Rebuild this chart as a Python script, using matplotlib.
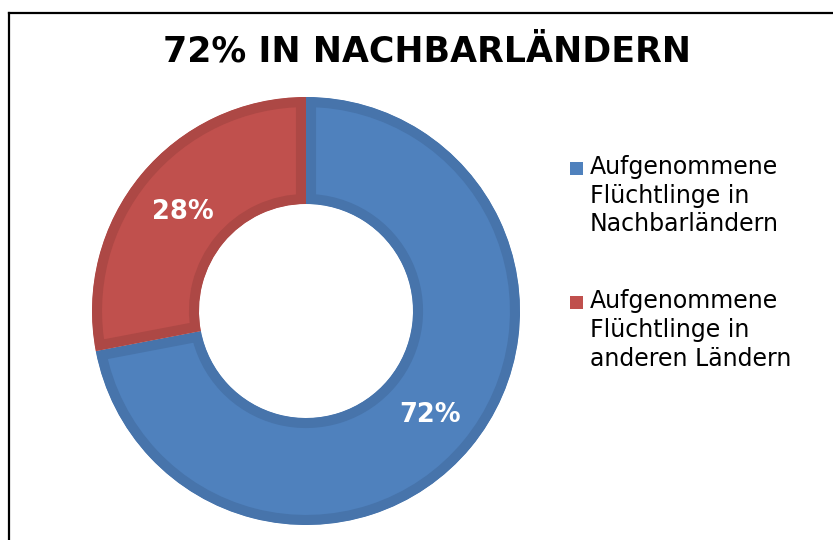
import matplotlib
matplotlib.use("Agg")
import matplotlib.pyplot as plt
from matplotlib.patches import Rectangle
from matplotlib.lines import Line2D

# data
labels = ["Aufgenommene\nFlüchtlinge in\nNachbarländern",
          "Aufgenommene\nFlüchtlinge in\nanderen Ländern"]
values = [72, 28]
pct_labels = ["72%", "28%"]
fill_colors = ["#4F81BD", "#C0504D"]
edge_colors = ["#4774AB", "#AD4845"]
title = "72% IN NACHBARLÄNDERN"

W, H = 833, 540
fig = plt.figure(figsize=(W / 100, H / 100), dpi=100)

# donut, centre (306, 311) px, radius 214 px
cx, cy, r = 306, 311, 214
ax = fig.add_axes([(cx - r) / W, (H - cy - r) / H, 2 * r / W, 2 * r / H])
wedges, _ = ax.pie(values, radius=1, startangle=90, counterclock=False,
                   colors=fill_colors,
                   wedgeprops=dict(width=0.5, linewidth=14.5))
# keep the border stroke inside each wedge (pie turns clipping off)
for w, ec in zip(wedges, edge_colors):
    w.set_edgecolor(ec)
    w.set_clip_on(True)
    w.set_clip_path(w)
ax.set_xlim(-1, 1)
ax.set_ylim(-1, 1)
ax.set_aspect("auto")
ax.axis("off")

# percentage labels
lab_pos = [(430, 415), (183, 212)]
for (px, py), txt in zip(lab_pos, pct_labels):
    fig.text(px / W, 1 - py / H, txt, ha="center", va="center",
             color="white", fontsize=18.5, fontweight="bold",
             family="DejaVu Sans")

# title
fig.text(427 / W, 1 - 51 / H, title, ha="center", va="center",
         fontsize=25, fontweight="bold", family="DejaVu Sans")

# legend (manual)
leg_y = [168, 302]
for y, lab, c in zip(leg_y, labels, fill_colors):
    fig.patches.append(Rectangle((570 / W, 1 - (y + 6.5) / H), 13 / W, 13 / H,
                                 transform=fig.transFigure, facecolor=c,
                                 edgecolor="none"))
    fig.text(590 / W, 1 - (y - 13) / H, lab, ha="left", va="top",
             fontsize=17, linespacing=1.25, family="DejaVu Sans")

# frame lines
fig.lines.append(Line2D([9 / W, 1], [1 - 12.5 / H] * 2, transform=fig.transFigure,
                        color="black", linewidth=1.6))
fig.lines.append(Line2D([9 / W] * 2, [0, 1 - 12.5 / H], transform=fig.transFigure,
                        color="black", linewidth=1.6))

fig.savefig("out.png", dpi=100)
